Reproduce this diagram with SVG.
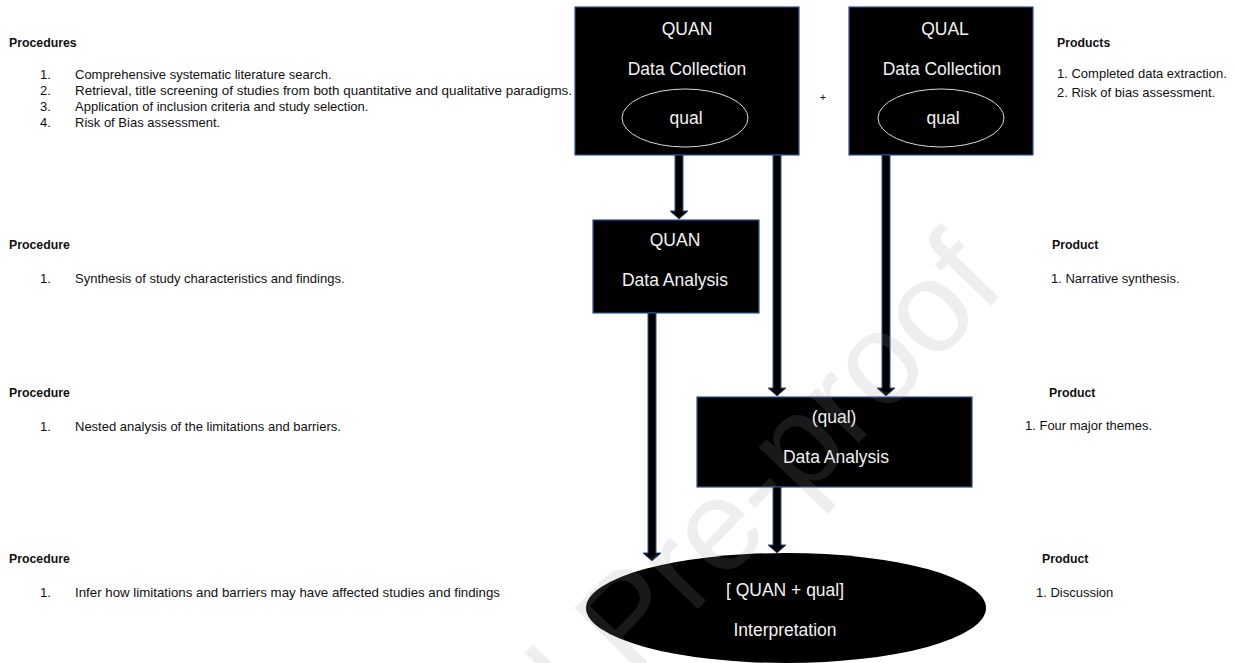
<svg xmlns="http://www.w3.org/2000/svg" width="1236" height="663" viewBox="0 0 1236 663">
<style>
.bg{fill:#ffffff}
.box{fill:#000000;stroke:#2F528F;stroke-width:1.2}
.inner{fill:none;stroke:#d9d9d9;stroke-width:1}
.bt{font-family:"Liberation Sans",Arial,sans-serif;font-size:17.5px;fill:#f2f2f2;text-anchor:middle}
.t{font-family:"Liberation Sans",Arial,sans-serif;font-size:13px;fill:#111111}
.h{font-family:"Liberation Sans",Arial,sans-serif;font-size:12.3px;font-weight:bold;fill:#111111}
.arrow{fill:#000000;stroke:#2F528F;stroke-width:1}
.wm{font-family:"Liberation Sans",Arial,sans-serif;font-size:130px;fill:#999999;opacity:0.16}
</style>
<rect class="bg" x="0" y="0" width="1236" height="663"/>

<g id="procedures-1">
<text class="h" x="9" y="47">Procedures</text>
<text class="t" x="40" y="79">1.</text><text class="t" x="75" y="79">Comprehensive systematic literature search.</text>
<text class="t" x="40" y="95">2.</text><text class="t" x="75" y="95" textLength="497" lengthAdjust="spacingAndGlyphs">Retrieval, title screening of studies from both quantitative and qualitative paradigms.</text>
<text class="t" x="40" y="111">3.</text><text class="t" x="75" y="111">Application of inclusion criteria and study selection.</text>
<text class="t" x="40" y="127">4.</text><text class="t" x="75" y="127">Risk of Bias assessment.</text>
</g>
<g id="procedure-2">
<text class="h" x="9" y="249">Procedure</text>
<text class="t" x="40" y="283">1.</text><text class="t" x="75" y="283">Synthesis of study characteristics and findings.</text>
</g>
<g id="procedure-3">
<text class="h" x="9" y="397">Procedure</text>
<text class="t" x="40" y="431">1.</text><text class="t" x="75" y="431">Nested analysis of the limitations and barriers.</text>
</g>
<g id="procedure-4">
<text class="h" x="9" y="563">Procedure</text>
<text class="t" x="40" y="597">1.</text><text class="t" x="75" y="597" textLength="425" lengthAdjust="spacingAndGlyphs">Infer how limitations and barriers may have affected studies and findings</text>
</g>

<g id="products-1">
<text class="h" x="1057" y="47">Products</text>
<text class="t" x="1057" y="78">1. Completed data extraction.</text>
<text class="t" x="1057" y="97">2. Risk of bias assessment.</text>
</g>
<g id="product-2">
<text class="h" x="1052" y="249">Product</text>
<text class="t" x="1051" y="283">1. Narrative synthesis.</text>
</g>
<g id="product-3">
<text class="h" x="1049" y="397">Product</text>
<text class="t" x="1025" y="430">1. Four major themes.</text>
</g>
<g id="product-4">
<text class="h" x="1042" y="563">Product</text>
<text class="t" x="1036" y="597">1. Discussion</text>
</g>

<g id="quan-collection">
<rect class="box" x="575" y="7" width="224" height="148"/>
<text class="bt" x="687" y="35">QUAN</text>
<text class="bt" x="687" y="75">Data Collection</text>
<ellipse class="inner" cx="685" cy="118" rx="63" ry="29"/>
<text class="bt" x="686" y="124">qual</text>
</g>
<g id="plus">
<text class="t" x="823" y="101" style="font-size:11px" text-anchor="middle">+</text>
</g>
<g id="qual-collection">
<rect class="box" x="849" y="7" width="184" height="148"/>
<text class="bt" x="945" y="35">QUAL</text>
<text class="bt" x="942" y="75">Data Collection</text>
<ellipse class="inner" cx="941" cy="118" rx="63" ry="29"/>
<text class="bt" x="943" y="124">qual</text>
</g>
<g id="quan-analysis">
<rect class="box" x="593" y="220" width="166" height="93"/>
<text class="bt" x="675" y="246">QUAN</text>
<text class="bt" x="675" y="286">Data Analysis</text>
</g>
<g id="qual-analysis">
<rect class="box" x="697" y="397" width="275" height="90"/>
<text class="bt" x="834" y="423">(qual)</text>
<text class="bt" x="836" y="463">Data Analysis</text>
</g>
<g id="interpretation">
<ellipse cx="786" cy="608" rx="200" ry="55" fill="#000000"/>
<text class="bt" x="785" y="596">[ QUAN + qual]</text>
<text class="bt" x="785" y="636">Interpretation</text>
</g>

<g id="connectors">
<path class="arrow" d="M675 155 L683 155 L683 211 L688 211 L679 219 L670 211 L675 211 Z"/>
<path class="arrow" d="M773 155 L781 155 L781 388 L786 388 L777 396 L768 388 L773 388 Z"/>
<path class="arrow" d="M882 155 L890 155 L890 388 L895 388 L886 396 L877 388 L882 388 Z"/>
<path class="arrow" d="M648 313 L656 313 L656 553 L661 553 L652 561 L643 553 L648 553 Z"/>
<path class="arrow" d="M773 487 L781 487 L781 545 L786 545 L777 553 L768 545 L773 545 Z"/>
</g>

<text class="wm" x="1008" y="288" text-anchor="end" transform="rotate(-46 1008 288)">Journal Pre-proof</text>
</svg>
